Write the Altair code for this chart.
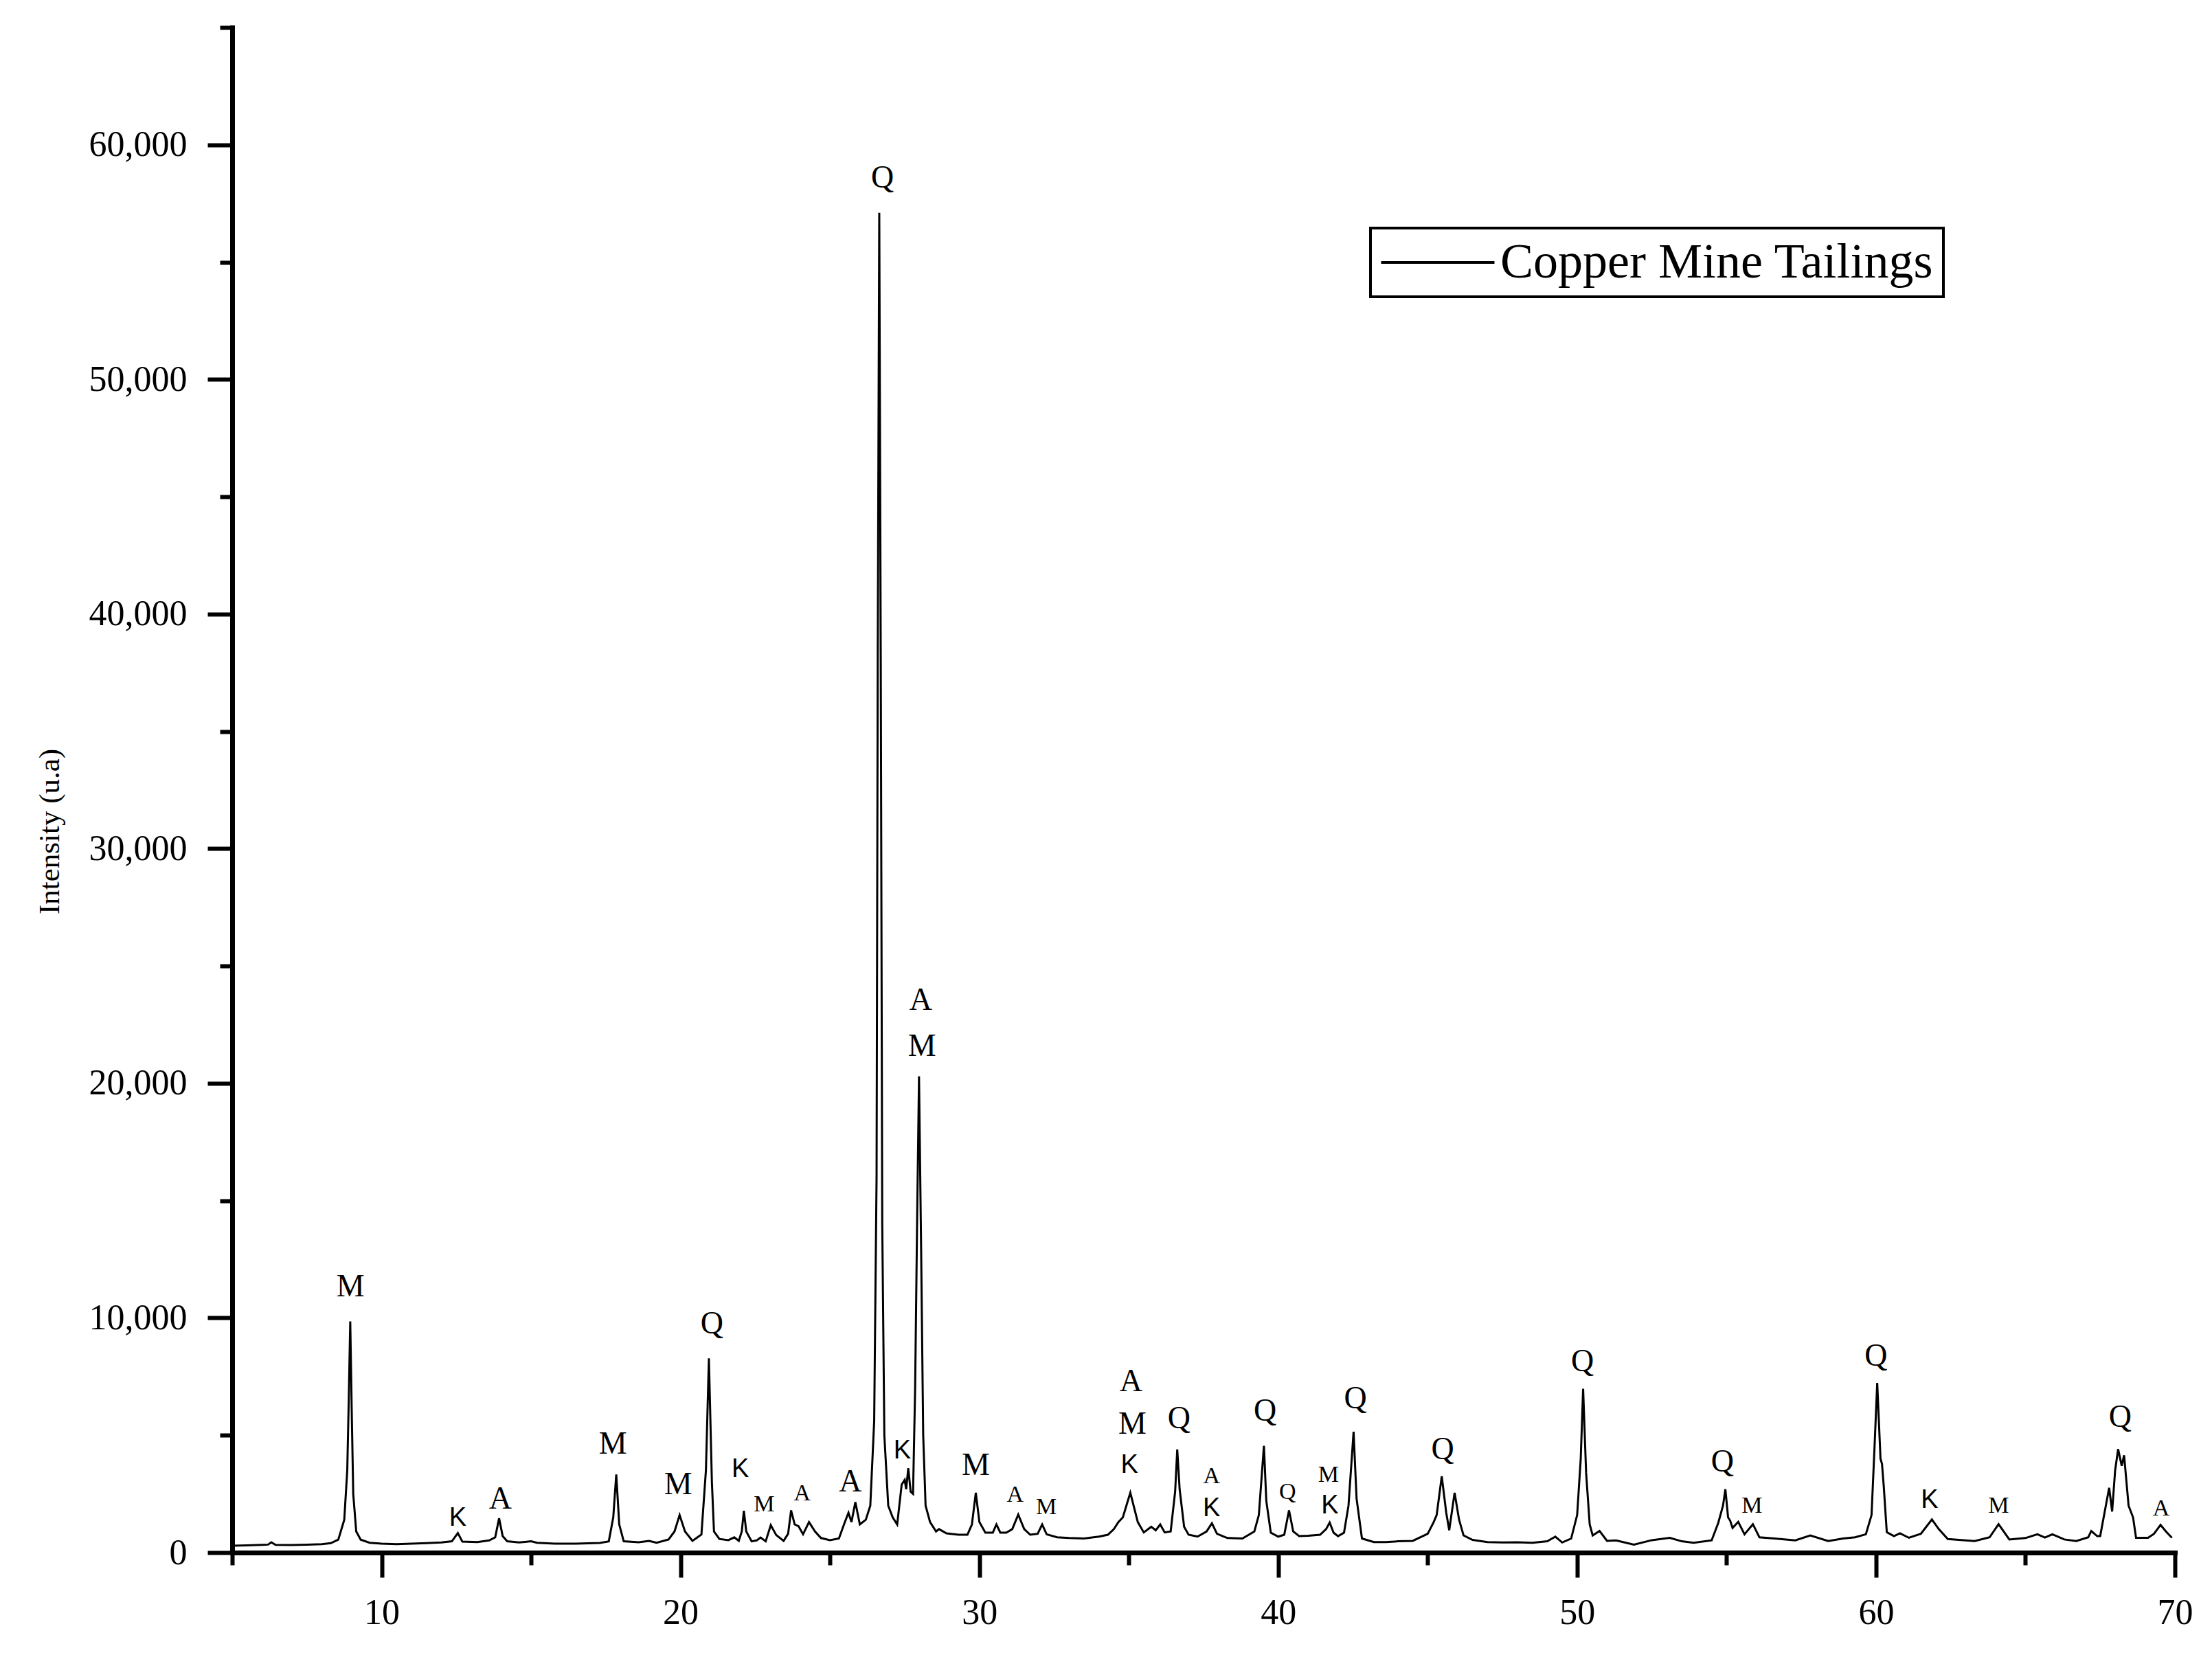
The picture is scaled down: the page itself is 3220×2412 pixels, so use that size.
import altair as alt
import pandas as pd

# ---- XRD profile (2-theta in degrees, intensity in counts) ----
two_theta = [
    5.0, 5.5, 6.0, 6.2, 6.31, 6.45, 7.0, 7.5, 8.0, 8.3, 8.55, 8.75, 8.85, 8.9, 8.95, 9.0, 9.05, 9.15, 9.3, 9.6,
    10.0, 10.5, 11.0, 11.5, 12.0, 12.35, 12.55, 12.7, 13.2, 13.6, 13.8, 13.93, 14.05, 14.2, 14.6, 15.0, 15.2, 15.8,
    16.5, 17.3, 17.6, 17.75, 17.85, 17.95, 18.1, 18.6, 18.95, 19.2, 19.6, 19.8, 19.97, 20.15, 20.4, 20.7, 20.85,
    20.95, 21.05, 21.12, 21.3, 21.6, 21.8, 21.95, 22.05, 22.12, 22.2, 22.38, 22.55, 22.68, 22.85, 23.02, 23.2,
    23.45, 23.6, 23.7, 23.82, 23.95, 24.1, 24.3, 24.5, 24.7, 25.0, 25.3, 25.5, 25.62, 25.72, 25.85, 26.0, 26.2,
    26.35, 26.48, 26.56, 26.6, 26.65, 26.7, 26.75, 26.82, 26.95, 27.1, 27.25, 27.4, 27.5, 27.55, 27.62, 27.7,
    27.78, 27.85, 27.92, 27.98, 28.05, 28.12, 28.2, 28.35, 28.55, 28.65, 28.9, 29.3, 29.6, 29.75, 29.88, 30.0,
    30.2, 30.45, 30.57, 30.7, 30.9, 31.1, 31.3, 31.5, 31.7, 31.95, 32.1, 32.25, 32.6, 33.0, 33.5, 34.0, 34.3,
    34.5, 34.65, 34.8, 35.05, 35.3, 35.5, 35.75, 35.9, 36.05, 36.2, 36.4, 36.55, 36.62, 36.7, 36.85, 37.0, 37.3,
    37.6, 37.78, 37.95, 38.3, 38.8, 39.2, 39.35, 39.52, 39.6, 39.75, 40.0, 40.2, 40.36, 40.5, 40.7, 41.0, 41.4,
    41.6, 41.72, 41.85, 42.0, 42.2, 42.35, 42.52, 42.62, 42.8, 43.2, 43.6, 44.0, 44.5, 45.0, 45.2, 45.3, 45.47,
    45.62, 45.72, 45.9, 46.05, 46.2, 46.5, 47.0, 47.5, 48.0, 48.5, 49.0, 49.27, 49.5, 49.8, 50.0, 50.12, 50.2,
    50.3, 50.42, 50.52, 50.75, 51.0, 51.3, 51.9, 52.5, 53.1, 53.5, 53.9, 54.5, 54.72, 54.88, 54.96, 55.05, 55.12,
    55.2, 55.39, 55.6, 55.88, 56.1, 56.6, 57.3, 57.8, 58.4, 58.9, 59.3, 59.66, 59.85, 59.95, 60.04, 60.15, 60.2,
    60.26, 60.36, 60.6, 60.8, 61.1, 61.5, 61.87, 62.1, 62.4, 63.3, 63.8, 64.1, 64.46, 65.0, 65.4, 65.65, 65.9,
    66.3, 66.7, 67.1, 67.2, 67.4, 67.5, 67.8, 67.9, 68.0, 68.1, 68.22, 68.3, 68.45, 68.6, 68.7, 69.1, 69.3,
    69.52, 69.7, 69.9,
]
intensity = [
    290, 310, 330, 340, 440, 330, 320, 340, 360, 400, 550, 1400, 3500, 6500, 9850, 6000, 2500, 900, 550, 420,
    380, 360, 380, 400, 430, 480, 830, 470, 450, 520, 650, 1460, 700, 480, 430, 480, 420, 380,
    380, 410, 480, 1500, 3330, 1200, 480, 440, 500, 420, 560, 900, 1600, 900, 500, 770, 3500,
    8280, 3000, 900, 580, 530, 650, 500, 900, 1780, 900, 480, 520, 640, 480, 1170, 750,
    500, 800, 1800, 1200, 1120, 780, 1300, 900, 620, 530, 600, 1300, 1700, 1300, 2150, 1200, 1400,
    2000, 5600, 16000, 38500, 57100, 38000, 14000, 5000, 2000, 1500, 1200, 2900, 3100, 2700, 3600, 2600,
    2500, 7000, 14500, 20300, 13000, 5000, 2000, 1300, 900, 1000, 820, 760, 760, 1200, 2550, 1300,
    850, 850, 1200, 850, 850, 1000, 1620, 1000, 760, 800, 1200, 780, 650, 620, 600, 680, 760,
    1000, 1300, 1500, 2550, 1300, 860, 1100, 950, 1200, 860, 900, 2600, 4400, 2700, 1100, 760, 680,
    900, 1250, 800, 620, 600, 900, 1600, 4550, 2200, 850, 680, 760, 1800, 900, 700, 720, 760,
    1000, 1280, 850, 700, 850, 2000, 5150, 2300, 600, 450, 450, 480, 500, 800, 1300, 1600, 3250,
    1700, 950, 2550, 1400, 730, 540, 450, 430, 440, 420, 480, 680, 430, 600, 1600, 4000, 6980,
    3400, 1200, 730, 920, 500, 520, 340, 530, 630, 480, 420, 520, 1260, 2000, 2700, 1500, 1360,
    1050, 1310, 780, 1210, 650, 600, 520, 730, 490, 600, 650, 780, 1600, 4500, 7230, 4000, 3780,
    2800, 870, 700, 820, 630, 800, 1410, 1000, 580, 490, 650, 1210, 560, 620, 780, 640, 780,
    560, 490, 650, 920, 700, 700, 2760, 1750, 3500, 4410, 3700, 4150, 2000, 1500, 630, 630, 800,
    1180, 900, 630,
]
series_name = "Copper Mine Tailings"

# ---- phase labels (2-theta, intensity at which the letter sits, letter) ----
big_x = [8.96, 13.97, 17.74, 19.92, 21.05, 25.68, 26.76, 28.04, 28.08, 29.88, 35.07, 35.12, 36.68,
         39.56, 42.58, 45.5, 50.18, 54.86, 60.0, 68.17]
big_y = [11325, 2290, 4640, 2890, 9760, 3010, 58600, 23550, 21570, 3730, 7290, 5480, 5720,
         6020, 6570, 4400, 8130, 3860, 8370, 5780]
big_t = ["M", "A", "M", "M", "Q", "A", "Q", "A", "M", "M", "A", "M", "Q",
         "Q", "Q", "Q", "Q", "Q", "Q", "Q"]

small_x = [22.8, 24.07, 31.2, 32.24, 37.77, 40.31, 41.68, 55.85, 64.1, 69.54]
small_y = [2050, 2530, 2470, 1930, 3250, 2590, 3310, 1990, 1990, 1870]
small_t = ["M", "A", "A", "M", "A", "Q", "M", "M", "M", "A"]

k_x = [12.55, 22.0, 27.42, 35.02, 37.77, 41.73, 61.79]
k_y = [1450, 3550, 4340, 3730, 1870, 1990, 2230]
k_t = ["K", "K", "K", "K", "K", "K", "K"]

x_major = [10, 20, 30, 40, 50, 60, 70]
x_minor = [5, 15, 25, 35, 45, 55, 65]
y_major = [0, 10000, 20000, 30000, 40000, 50000, 60000]
y_minor = [5000, 15000, 25000, 35000, 45000, 55000, 65000]

profile = pd.DataFrame({"two_theta": two_theta, "intensity": intensity, "series": series_name})
big = pd.DataFrame({"x": big_x, "y": big_y, "t": big_t})
small = pd.DataFrame({"x": small_x, "y": small_y, "t": small_t})
kdf = pd.DataFrame({"x": k_x, "y": k_y, "t": k_t})

SERIF = "Liberation Serif"
xscale = alt.Scale(domain=[5, 70], nice=False, zero=False)
yscale = alt.Scale(domain=[0, 65000], nice=False, zero=False)

x_axis_major = alt.Axis(orient="bottom", values=x_major, title=None, grid=False, domain=True,
                        domainColor="black", domainWidth=7, domainCap="square", tickColor="black",
                        tickWidth=6, tickSize=36, labelFont=SERIF, labelFontSize=52,
                        labelColor="black", labelPadding=26, labelFlush=False, labelOverlap=False)
y_axis_major = alt.Axis(orient="left", values=y_major, title="Intensity (u.a)", format=",d",
                        grid=False, domain=True, domainColor="black", domainWidth=7,
                        domainCap="square", tickColor="black", tickWidth=6, tickSize=36,
                        labelFont=SERIF, labelFontSize=52, labelColor="black", labelPadding=30,
                        labelFlush=False, labelOverlap=False, titleFont=SERIF, titleFontSize=43,
                        titleFontWeight="normal", titleColor="black", titlePadding=44,
                        titleY=1170)
x_axis_minor = alt.Axis(orient="bottom", values=x_minor, title=None, grid=False, domain=False,
                        labels=False, tickColor="black", tickWidth=6, tickSize=18)
y_axis_minor = alt.Axis(orient="left", values=y_minor, title=None, grid=False, domain=False,
                        labels=False, tickColor="black", tickWidth=6, tickSize=18)

line = alt.Chart(profile).mark_line(strokeWidth=3, interpolate="linear").encode(
    x=alt.X("two_theta:Q", scale=xscale, axis=x_axis_major),
    y=alt.Y("intensity:Q", scale=yscale, axis=y_axis_major),
    color=alt.Color("series:N", scale=alt.Scale(range=["black"]),
                    legend=alt.Legend(title=None, orient="none", legendX=1657, legendY=292,
                                      symbolType="M-3,0L3,0", symbolSize=3025,
                                      symbolStrokeWidth=4, symbolStrokeColor="black",
                                      symbolFillColor="transparent", symbolOffset=48,
                                      labelFont=SERIF, labelFontSize=72, labelColor="black",
                                      labelLimit=2000, labelOffset=55, strokeColor="black",
                                      padding=14)),
)

minor = alt.Chart(profile).mark_line(opacity=0).encode(
    x=alt.X("two_theta:Q", scale=xscale, axis=x_axis_minor),
    y=alt.Y("intensity:Q", scale=yscale, axis=y_axis_minor),
)


def text_layer(df, font, size):
    return alt.Chart(df).mark_text(font=font, fontSize=size, color="black",
                                   baseline="middle", align="center").encode(
        x=alt.X("x:Q", scale=xscale, axis=None),
        y=alt.Y("y:Q", scale=yscale, axis=None),
        text="t:N",
    )


chart = alt.layer(
    line, minor,
    text_layer(big, SERIF, 46),
    text_layer(small, SERIF, 34),
    text_layer(kdf, "Liberation Sans", 38),
).resolve_axis(x="independent", y="independent").properties(
    width=2828, height=2220,
    padding={"left": 43, "top": 29, "right": 20, "bottom": 10},
    background="white",
).configure_view(stroke="transparent").configure_legend(strokeWidth=4)

chart.save("out.html", embed_options={"renderer": "svg", "actions": False})
